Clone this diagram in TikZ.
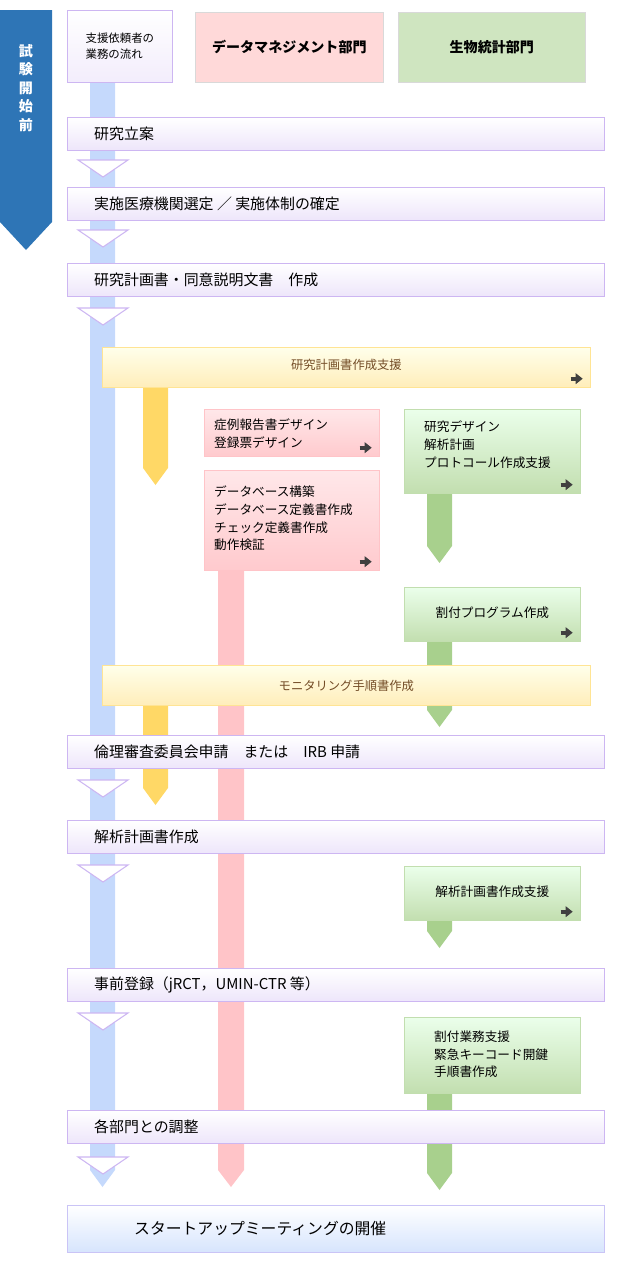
\documentclass[tikz,border=0pt]{standalone}
\usepackage{fontspec}
\setmainfont{Noto Sans CJK JP}
\usetikzlibrary{arrows.meta,positioning}
\def\px{0.02cm}
\definecolor{laneblue}{HTML}{C5D9FC}
\definecolor{lanepink}{HTML}{FFC4C8}
\definecolor{lanegreen}{HTML}{A8D08D}
\definecolor{laneyellow}{HTML}{FFD866}
\definecolor{stepline}{HTML}{CDB6F2}
\definecolor{banner}{HTML}{2E75B6}
\tikzset{%
  >={Latex[width=2mm,length=2mm]},
  % boxes
         base/.style = {rectangle, anchor=north west, inner sep=0pt,
                        font=\fontsize{8.5}{11}\selectfont},
     stepbox/.style = {base, draw=stepline, top color=white,
                        bottom color=stepline!35, line width=0.6pt},
      headbox/.style = {base, font=\fontsize{8}{10}\selectfont\bfseries},
      yellowbox/.style = {base, draw=laneyellow!70, top color=yellow!8,
                        bottom color=laneyellow!45, text=brown!60!black,
                        font=\fontsize{7}{9}\selectfont},
      pinkbox/.style = {base, draw=lanepink, top color=lanepink!40,
                        bottom color=lanepink!90, align=left,
                        font=\fontsize{7.2}{10}\selectfont},
     greenbox/.style = {base, draw=lanegreen!70, top color=green!8,
                        bottom color=lanegreen!70, align=left,
                        font=\fontsize{7.2}{10}\selectfont},
      chevron/.style = {fill=white, draw=stepline, line width=0.6pt},
}
% lane: x-left, x-right, top, bottom, colour
\newcommand\lane[5]{\fill[#5] (#1,#3) -- (#2,#3) -- (#2,#4)
  -- ({(#1+#2)/2},#4+17) -- (#1,#4) -- cycle;}
\newcommand\chev[1]{\draw[chevron] (78,#1) -- (128,#1) -- (103,#1+17) -- cycle;}
\newcommand\icon[1]{\draw[line width=2.2pt, gray!50!black, -{Triangle[width=6pt,length=4pt]}]
  ([shift={(-20*\px,9*\px)}]#1.south east) -- ++(12*\px,0);}
\begin{document}
\begin{tikzpicture}[x=\px, y=-\px]
\useasboundingbox (0,0) rectangle (618,1281);

% lanes
\lane{90}{115}{82}{1170}{laneblue}
\lane{218}{244}{560}{1170}{lanepink}
\lane{143}{168}{385}{468}{laneyellow}
\lane{143}{168}{700}{788}{laneyellow}
\lane{427}{452}{490}{546}{lanegreen}
\lane{427}{452}{638}{710}{lanegreen}
\lane{427}{452}{918}{931}{lanegreen}
\lane{427}{452}{1090}{1173}{lanegreen}

% banner
\fill[banner] (0,10) -- (52,10) -- (52,222) -- (26,250) -- (0,222) -- cycle;
\node (Banner) [align=center, text=white, font=\fontsize{8}{10.5}\selectfont\bfseries]
  at (26,88) {試\\験\\開\\始\\前};

% headers
\node (HClient) [headbox, draw=stepline, top color=white, bottom color=stepline!25,
  minimum width=105*\px, minimum height=72*\px, align=left,
  font=\fontsize{6.5}{9}\selectfont] at (67,10) {};
\node at (HClient.center) [align=left, font=\fontsize{6.5}{9}\selectfont] {支援依頼者の\\業務の流れ};
\node (HData) [headbox, fill=red!15, draw=gray!30, minimum width=188*\px,
  minimum height=70*\px] at (195,12) {データマネジメント部門};
\node (HStat) [headbox, fill=lanegreen!55, draw=gray!30, minimum width=187*\px,
  minimum height=70*\px] at (398,12) {生物統計部門};

% steps of the client
\foreach \y/\txt/\nm in {117/研究立案/Plan, 187/実施医療機関選定 ／ 実施体制の確定/Site,
    263/研究計画書・同意説明文書\quad 作成/Protocol,
    735/倫理審査委員会申請\quad または\quad IRB 申請/Ethics,
    820/解析計画書作成/SAP, 968/事前登録（jRCT，UMIN-CTR 等）/Reg,
    1110/各部門との調整/Adjust}{
  \node (\nm) [stepbox, minimum width=537*\px, minimum height=33*\px] at (67,\y) {};
  \node [anchor=west, font=\fontsize{8.5}{11}\selectfont] at (88,\y+17) {\txt};
}
\foreach \y in {160,230,308,780,865,1013,1157}{\chev{\y}}

\node (Kickoff) [base, draw=stepline!60!laneblue, top color=white, bottom color=laneblue!70,
  minimum width=537*\px, minimum height=47*\px] at (67,1205) {};
\node [anchor=west, font=\fontsize{9}{11}\selectfont] at (128,1228) {スタートアップミーティングの開催};

% support boxes
\node (ProtSupport) [yellowbox, minimum width=488*\px, minimum height=40*\px] at (102,347) {};
\node at ([yshift=-18*\px]ProtSupport.north) [font=\fontsize{7}{9}\selectfont, text=brown!60!black] {研究計画書作成支援};
\icon{ProtSupport}
\node (Monitor) [yellowbox, minimum width=488*\px, minimum height=40*\px] at (102,665) {};
\node at (Monitor.center) [font=\fontsize{7}{9}\selectfont, text=brown!60!black] {モニタリング手順書作成};

\node (CRF) [pinkbox, minimum width=175*\px, minimum height=47*\px] at (204,409) {};
\node [anchor=north west, align=left, font=\fontsize{7.2}{10}\selectfont] at (208,413)
  {症例報告書デザイン\\登録票デザイン};
\icon{CRF}
\node (DB) [pinkbox, minimum width=175*\px, minimum height=100*\px] at (204,470) {};
\node [anchor=north west, align=left, font=\fontsize{7.2}{10}\selectfont] at (208,480)
  {データベース構築\\データベース定義書作成\\チェック定義書作成\\動作検証};
\icon{DB}

\node (Design) [greenbox, minimum width=176*\px, minimum height=84*\px] at (404,409) {};
\node [anchor=north west, align=left, font=\fontsize{7.2}{10}\selectfont] at (418,415)
  {研究デザイン\\解析計画\\プロトコール作成支援};
\icon{Design}
\node (Random) [greenbox, minimum width=176*\px, minimum height=54*\px] at (404,587) {};
\node at ([yshift=-26*\px]Random.north) [font=\fontsize{7.2}{10}\selectfont] {割付プログラム作成};
\icon{Random}
\node (SAPSupport) [greenbox, minimum width=176*\px, minimum height=54*\px] at (404,866) {};
\node at ([yshift=-26*\px]SAPSupport.north) [font=\fontsize{7.2}{10}\selectfont] {解析計画書作成支援};
\icon{SAPSupport}
\node (Alloc) [greenbox, minimum width=176*\px, minimum height=76*\px] at (404,1017) {};
\node [anchor=north west, align=left, font=\fontsize{7.2}{10}\selectfont] at (428,1025)
  {割付業務支援\\緊急キーコード開鍵\\手順書作成};
\end{tikzpicture}
\end{document}
